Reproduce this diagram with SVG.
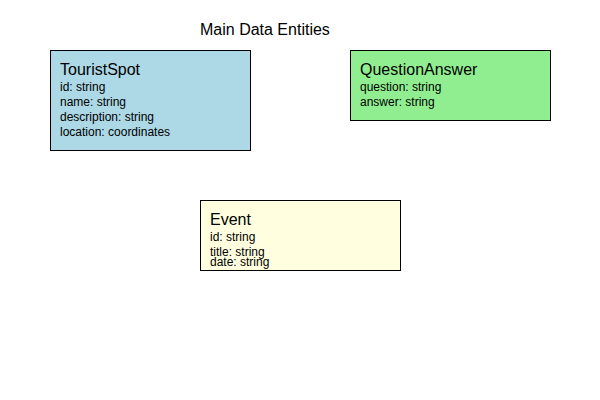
<svg xmlns="http://www.w3.org/2000/svg" width="600" height="400" viewBox="0 0 600 400">
<style>
text{font-family:"Liberation Sans",Arial,sans-serif;fill:#000}
.t{font-size:16px}
.h{font-size:16px}
.f{font-size:12px}
.box{stroke:#000;stroke-width:1}
</style>
<rect x="0" y="0" width="600" height="400" fill="#fff"/>
<text class="t" x="200" y="35">Main Data Entities</text>
<g id="TouristSpot">
<rect class="box" x="50.5" y="50.5" width="200" height="100" fill="#ADD8E6"/>
<text class="h" x="60" y="75">TouristSpot</text>
<text class="f" x="60" y="91">id: string</text>
<text class="f" x="60" y="106">name: string</text>
<text class="f" x="60" y="121">description: string</text>
<text class="f" x="60" y="136">location: coordinates</text>
</g>
<g id="QuestionAnswer">
<rect class="box" x="350.5" y="50.5" width="200" height="70" fill="#90EE90"/>
<text class="h" x="360" y="75">QuestionAnswer</text>
<text class="f" x="360" y="91">question: string</text>
<text class="f" x="360" y="106">answer: string</text>
</g>
<g id="Event">
<rect class="box" x="200.5" y="200.5" width="200" height="70" fill="#FFFFE0"/>
<text class="h" x="210" y="225">Event</text>
<text class="f" x="210" y="241">id: string</text>
<text class="f" x="210" y="256">title: string</text>
<text class="f" x="210" y="266">date: string</text>
</g>
<g id="connectors"></g>
</svg>
